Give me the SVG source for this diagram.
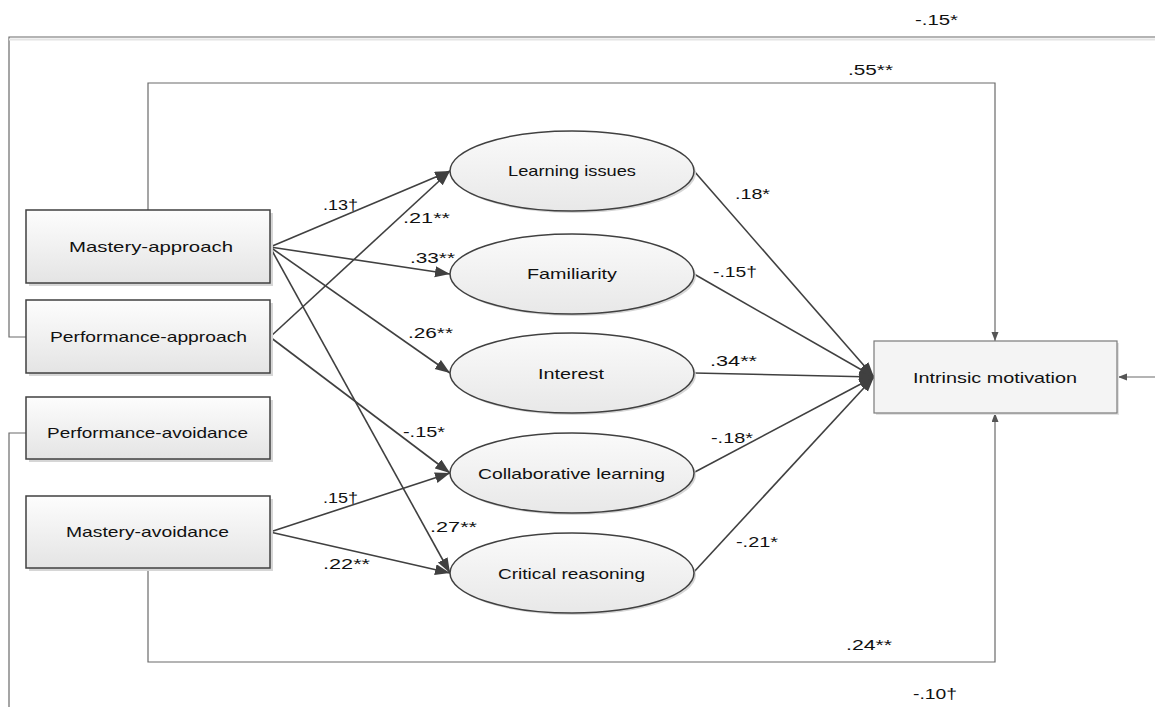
<svg xmlns="http://www.w3.org/2000/svg" width="1155" height="707" viewBox="0 0 1155 707">
<defs>
<linearGradient id="gb" x1="0" y1="0" x2="0" y2="1"><stop offset="0" stop-color="#fdfdfd"/><stop offset="1" stop-color="#e4e4e4"/></linearGradient>
<linearGradient id="ge" x1="0" y1="0" x2="0" y2="1"><stop offset="0" stop-color="#fafafa"/><stop offset="1" stop-color="#e8e8e8"/></linearGradient>
<marker id="ah" markerUnits="userSpaceOnUse" markerWidth="16" markerHeight="12" refX="15" refY="5.5" orient="auto"><path d="M0,0 L15,5.5 L0,11 z" fill="#404040"/></marker>
<marker id="as" markerUnits="userSpaceOnUse" markerWidth="10" markerHeight="8" refX="9" refY="3.5" orient="auto"><path d="M0,0 L9,3.5 L0,7 z" fill="#555"/></marker>
</defs>
<style>
text{font-family:"Liberation Sans",Arial,sans-serif;font-size:15px;fill:#111}
.box{fill:url(#gb);stroke:#404040;stroke-width:1.5}
.sh{fill:#d6d6d6}
.ell{fill:url(#ge);stroke:#404040;stroke-width:1.5}
.c{fill:none;stroke:#404040;stroke-width:1.6}
.f{fill:none;stroke:#6a6a6a;stroke-width:1.2}
.m{text-anchor:middle}
</style>
<rect width="1155" height="707" fill="#fff"/>
<g id="connectors">
<path class="f" d="M26,337 H9 V37 H1155"/>
<path class="f" d="M26,433 H9 V707"/>
<path d="M9,39.5 H1155" stroke="#e4e4e4" stroke-width="2" fill="none"/>
<path class="f" d="M148,210 V83 H995 V341" marker-end="url(#as)"/>
<path class="f" d="M148,568 V662 H995 V413" marker-end="url(#as)"/>
<path class="f" d="M1155,377 H1118" marker-end="url(#as)"/>
<path class="c" d="M270,247 L450,171" marker-end="url(#ah)"/>
<path class="c" d="M270,247 L450,274" marker-end="url(#ah)"/>
<path class="c" d="M270,247 L450,373" marker-end="url(#ah)"/>
<path class="c" d="M270,247 L450,573" marker-end="url(#ah)"/>
<path class="c" d="M270,337 L450,171" marker-end="url(#ah)"/>
<path class="c" d="M270,337 L450,473" marker-end="url(#ah)"/>
<path class="c" d="M270,532 L450,473" marker-end="url(#ah)"/>
<path class="c" d="M270,532 L450,573" marker-end="url(#ah)"/>
<path class="c" d="M694,171 L874,377" marker-end="url(#ah)"/>
<path class="c" d="M694,274 L874,377" marker-end="url(#ah)"/>
<path class="c" d="M694,373 L874,377" marker-end="url(#ah)"/>
<path class="c" d="M693,473 L874,377" marker-end="url(#ah)"/>
<path class="c" d="M693,573 L874,377" marker-end="url(#ah)"/>
</g>
<g id="labels">
<text x="323" y="210" textLength="35" lengthAdjust="spacingAndGlyphs">.13†</text>
<text x="403" y="223" textLength="47" lengthAdjust="spacingAndGlyphs">.21**</text>
<text x="410" y="263" textLength="45" lengthAdjust="spacingAndGlyphs">.33**</text>
<text x="408" y="338" textLength="45" lengthAdjust="spacingAndGlyphs">.26**</text>
<text x="403" y="437" textLength="42" lengthAdjust="spacingAndGlyphs">-.15*</text>
<text x="323" y="503" textLength="35" lengthAdjust="spacingAndGlyphs">.15†</text>
<text x="430" y="532" textLength="47" lengthAdjust="spacingAndGlyphs">.27**</text>
<text x="323" y="569" textLength="47" lengthAdjust="spacingAndGlyphs">.22**</text>
<text x="735" y="199" textLength="35" lengthAdjust="spacingAndGlyphs">.18*</text>
<text x="713" y="277" textLength="44" lengthAdjust="spacingAndGlyphs">-.15†</text>
<text x="710" y="366" textLength="47" lengthAdjust="spacingAndGlyphs">.34**</text>
<text x="711" y="443" textLength="42" lengthAdjust="spacingAndGlyphs">-.18*</text>
<text x="736" y="547" textLength="42" lengthAdjust="spacingAndGlyphs">-.21*</text>
<text x="848" y="75" textLength="45" lengthAdjust="spacingAndGlyphs">.55**</text>
<text x="915" y="25" textLength="43" lengthAdjust="spacingAndGlyphs">-.15*</text>
<text x="846" y="650" textLength="46" lengthAdjust="spacingAndGlyphs">.24**</text>
<text x="913" y="699" textLength="44" lengthAdjust="spacingAndGlyphs">-.10†</text>
</g>
<g id="mastery-approach">
<rect class="sh" x="29" y="213" width="244" height="73"/>
<rect class="box" x="26" y="210" width="244" height="73"/>
<text class="m" x="151" y="252" textLength="164" lengthAdjust="spacingAndGlyphs">Mastery-approach</text>
</g>
<g id="performance-approach">
<rect class="sh" x="29" y="303" width="244" height="73"/>
<rect class="box" x="26" y="300" width="244" height="73"/>
<text class="m" x="148.5" y="342" textLength="197" lengthAdjust="spacingAndGlyphs">Performance-approach</text>
</g>
<g id="performance-avoidance">
<rect class="sh" x="29" y="400" width="244" height="62"/>
<rect class="box" x="26" y="397" width="244" height="62"/>
<text class="m" x="147.5" y="438" textLength="201" lengthAdjust="spacingAndGlyphs">Performance-avoidance</text>
</g>
<g id="mastery-avoidance">
<rect class="sh" x="29" y="499" width="244" height="72"/>
<rect class="box" x="26" y="496" width="244" height="72"/>
<text class="m" x="147.5" y="537" textLength="163" lengthAdjust="spacingAndGlyphs">Mastery-avoidance</text>
</g>
<g id="learning-issues">
<ellipse class="sh" cx="574" cy="173" rx="122" ry="40"/>
<ellipse class="ell" cx="572" cy="171" rx="122" ry="40"/>
<text class="m" x="572" y="176" textLength="128" lengthAdjust="spacingAndGlyphs">Learning issues</text>
</g>
<g id="familiarity">
<ellipse class="sh" cx="574" cy="276" rx="122" ry="40"/>
<ellipse class="ell" cx="572" cy="274" rx="122" ry="40"/>
<text class="m" x="572" y="279" textLength="90" lengthAdjust="spacingAndGlyphs">Familiarity</text>
</g>
<g id="interest">
<ellipse class="sh" cx="574" cy="375" rx="122" ry="40"/>
<ellipse class="ell" cx="572" cy="373" rx="122" ry="40"/>
<text class="m" x="571" y="379" textLength="66" lengthAdjust="spacingAndGlyphs">Interest</text>
</g>
<g id="collaborative-learning">
<ellipse class="sh" cx="574" cy="475" rx="122" ry="40"/>
<ellipse class="ell" cx="572" cy="473" rx="122" ry="40"/>
<text class="m" x="571.5" y="479" textLength="187" lengthAdjust="spacingAndGlyphs">Collaborative learning</text>
</g>
<g id="critical-reasoning">
<ellipse class="sh" cx="574" cy="575" rx="122" ry="40"/>
<ellipse class="ell" cx="572" cy="573" rx="122" ry="40"/>
<text class="m" x="571.5" y="579" textLength="147" lengthAdjust="spacingAndGlyphs">Critical reasoning</text>
</g>
<g id="intrinsic-motivation">
<rect x="876" y="343" width="243" height="72" fill="#e2e2e2"/>
<rect x="874" y="341" width="243" height="72" fill="#f4f4f4" stroke="#7a7a7a" stroke-width="1.2"/>
<text class="m" x="995" y="383" textLength="164" lengthAdjust="spacingAndGlyphs">Intrinsic motivation</text>
</g>
</svg>
